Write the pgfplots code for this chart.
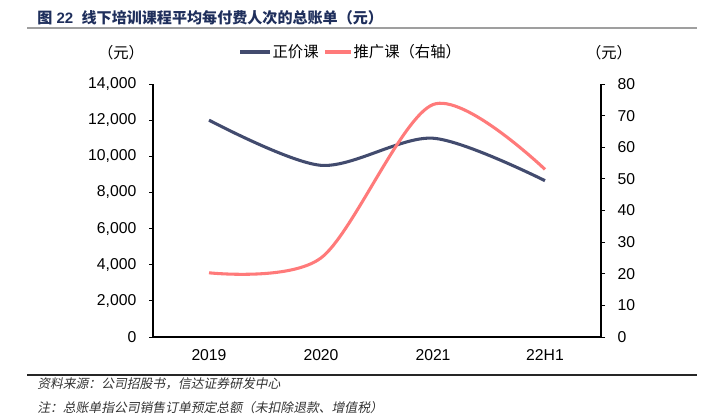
\documentclass[border=0pt]{standalone}
\usepackage{pgfplots}
\pgfplotsset{compat=1.18}
\usepackage{fontspec}
\setmainfont{Liberation Sans}
\newfontfamily\cjk{Noto Sans CJK SC}
\newfontfamily\cjkit[FakeSlant=0.2]{Noto Sans CJK SC}
\definecolor{navy}{RGB}{66,75,110}
\definecolor{pinkl}{RGB}{255,122,122}
\definecolor{titleblue}{RGB}{31,47,92}
\begin{document}
\begin{tikzpicture}[x=0.75pt,y=0.75pt]
\useasboundingbox (0,0) rectangle (709,415);
% title
\node[anchor=west,text=titleblue,font=\fontsize{11.3pt}{13pt}\selectfont\bfseries,inner sep=0pt] at (37,397) {{\cjk\bfseries 图} 22\ \ {\cjk\bfseries 线下培训课程平均每付费人次的总账单（元）}};
\draw[gray!75,line width=1.5pt] (27,386.5) -- (697,386.5);
% unit labels
\node[font=\cjk\fontsize{11.5pt}{13pt}\selectfont] at (121,362) {（元）};
\node[font=\cjk\fontsize{11.5pt}{13pt}\selectfont] at (609,362) {（元）};
% legend
\draw[navy,line width=2.3pt] (240,363) -- (270,363);
\node[anchor=west,font=\cjk\fontsize{11.5pt}{13pt}\selectfont,inner sep=1pt] at (271,363) {正价课};
\draw[pinkl,line width=2.3pt] (325,363) -- (351,363);
\node[anchor=west,font=\cjk\fontsize{11.5pt}{13pt}\selectfont,inner sep=1pt] at (352,363) {推广课（右轴）};
% bottom line and notes
\draw[black!85,line width=1pt] (27,40) -- (697,40);
\node[anchor=west,font=\cjkit\fontsize{9.6pt}{11pt}\selectfont,text=black!80,inner sep=0pt] at (37,31) {资料来源：公司招股书，信达证券研发中心};
\node[anchor=west,font=\cjkit\fontsize{9.6pt}{11pt}\selectfont,text=black!80,inner sep=0pt] at (37,7.5) {注：总账单指公司销售订单预定总额（未扣除退款、增值税）};

\begin{axis}[
  at={(114.75pt,58.5pt)}, anchor=south west,
  scale only axis, width=336pt, height=189.75pt,
  xmin=-0.5, xmax=3.5, ymin=0, ymax=14000,
  axis x line*=bottom, axis y line*=left,
  axis line style={line width=0.8pt,-},
  xtick={0,1,2,3}, xticklabels={2019,2020,2021,22H1},
  minor xtick={-0.5,0.5,1.5,2.5,3.5},
  xtick style={draw=none},
  minor tick length=3pt, major tick length=3pt,
  tick align=outside,
  tick style={line width=0.6pt,black},
  ytick={0,2000,...,14000},
  scaled y ticks=false,
  /pgf/number format/.cd, 1000 sep={,}, assume math mode=true,
  /pgfplots/.cd,
  ticklabel style={font=\fontsize{11.8pt}{13pt}\selectfont},
  yticklabel style={xshift=-6pt},
  xticklabel style={yshift=-3pt},
  clip=false,
]
\addplot[navy,line width=2.3pt,smooth,tension=0.5] coordinates {(0,12000) (1,9500) (2,11000) (3,8650)};
\end{axis}
\begin{axis}[
  at={(114.75pt,58.5pt)}, anchor=south west,
  scale only axis, width=336pt, height=189.75pt,
  xmin=-0.5, xmax=3.5, ymin=0, ymax=80,
  axis x line=none, axis y line*=right,
  axis line style={line width=0.8pt,-},
  ytick={0,10,...,80},
  major tick length=3pt, tick align=outside,
  tick style={line width=0.6pt,black},
  /pgf/number format/assume math mode=true,
  ticklabel style={font=\fontsize{11.8pt}{13pt}\selectfont},
  yticklabel style={xshift=6pt},
  clip=false,
]
\addplot[pinkl,line width=2.3pt,smooth,tension=0.5] coordinates {(0,20.3) (1,25) (2,73.5) (3,53)};
\end{axis}
\end{tikzpicture}
\end{document}
